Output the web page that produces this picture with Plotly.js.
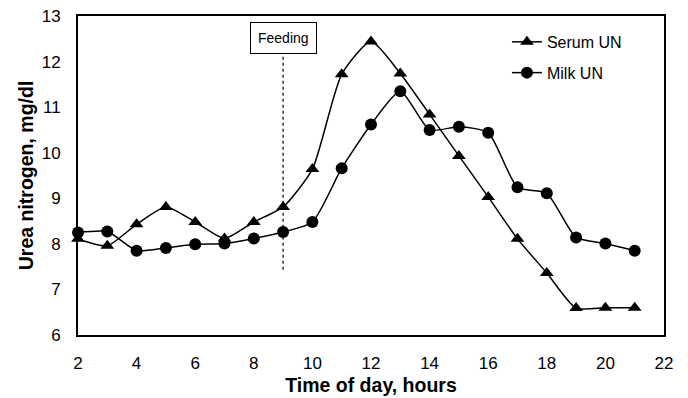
<!DOCTYPE html>
<html><head><meta charset="utf-8">
<script src="https://cdn.plot.ly/plotly-3.0.1.min.js"></script>
<style>html,body{margin:0;padding:0;background:#fff;}#chart{width:688px;height:398px;}</style>
</head><body><div id="chart"></div>
<script>
const hours = [2,3,4,5,6,7,8,9,10,11,12,13,14,15,16,17,18,19,20,21];
const serumUN = [8.11,7.96,8.43,8.81,8.48,8.12,8.48,8.81,9.64,11.72,12.44,11.74,10.84,9.93,9.03,8.11,7.36,6.59,6.60,6.60];
const milkUN = [8.25,8.27,7.85,7.91,7.99,8.01,8.12,8.26,8.48,9.66,10.62,11.35,10.50,10.57,10.44,9.24,9.11,8.14,8.01,7.85];
const feedingHour = 9;
const feedingLineBottom = 7.43;
const feedingLineTop = 12.17;
const xTicks = [2,4,6,8,10,12,14,16,18,20,22];
const yTicks = [6,7,8,9,10,11,12,13];

const font = 'Liberation Sans, Arial, sans-serif';
const traces = [
  {x: hours, y: serumUN, name: 'Serum UN', mode: 'lines+markers', type: 'scatter', legendgroup: 'a',
   line: {color: '#000', width: 1.5, shape: 'spline', smoothing: 0.6},
   marker: {symbol: 'triangle-up', size: 12, color: '#000'}, cliponaxis: false},
  {x: hours, y: milkUN, name: 'Milk UN', mode: 'lines+markers', type: 'scatter', legendgroup: 'b',
   line: {color: '#000', width: 1.5, shape: 'spline', smoothing: 0.6},
   marker: {symbol: 'circle', size: 12, color: '#000'}, cliponaxis: false}
];
const layout = {
  width: 688, height: 398,
  margin: {l: 78, r: 24, t: 16, b: 63},
  paper_bgcolor: '#fff', plot_bgcolor: '#fff',
  font: {family: font, color: '#000', size: 17},
  showlegend: true,
  legend: {x: 0.732, y: 0.972, xanchor: 'left', yanchor: 'top', bgcolor: 'rgba(0,0,0,0)',
           font: {size: 16, family: font}, tracegroupgap: 7, itemwidth: 30},
  xaxis: {range: [2, 22], tickvals: xTicks, ticktext: xTicks.map(String), showgrid: false, zeroline: false,
          showline: true, linecolor: '#000', linewidth: 2, mirror: true, ticks: '', ticklabelstandoff: 12,
          tickfont: {size: 17},
          title: {text: '<b>Time of day, hours</b>', font: {size: 19.5}, standoff: 6}},
  yaxis: {range: [6, 13], tickvals: yTicks, ticktext: yTicks.map(String), showgrid: false, zeroline: false,
          showline: true, linecolor: '#000', linewidth: 2, mirror: true, ticks: '', ticklabelstandoff: 12,
          tickfont: {size: 17},
          title: {text: '<b>Urea nitrogen, mg/dl</b>', font: {size: 19.5}, standoff: 3}},
  shapes: [
    {type: 'line', xref: 'x', yref: 'y', x0: feedingHour, x1: feedingHour, y0: feedingLineBottom, y1: feedingLineTop,
     line: {color: '#000', width: 1.2, dash: 'dot'}, layer: 'below'}
  ],
  annotations: [
    {xref: 'x', yref: 'y', x: feedingHour, y: feedingLineTop, yanchor: 'bottom', xanchor: 'center',
     text: 'Feeding', showarrow: false, font: {size: 14, family: font},
     bordercolor: '#000', borderwidth: 1, borderpad: 7, bgcolor: '#fff'}
  ]
};
Plotly.newPlot('chart', traces, layout, {displayModeBar: false, staticPlot: true});
</script></body></html>
